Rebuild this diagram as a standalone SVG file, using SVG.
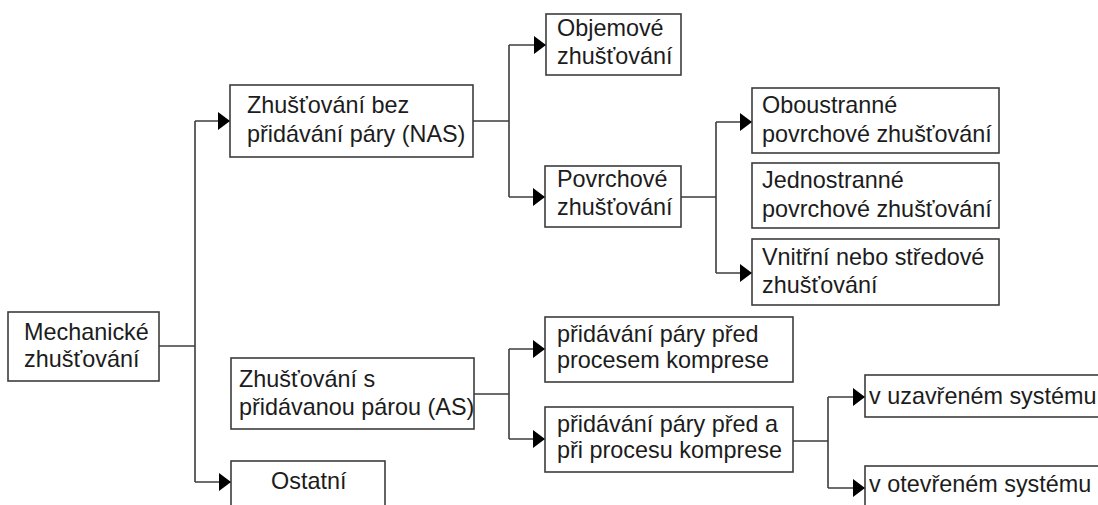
<svg xmlns="http://www.w3.org/2000/svg" width="1098" height="505" viewBox="0 0 1098 505">
<style>
.box{fill:#fff;stroke:#3c3c3c;stroke-width:1.6}
.t{font-family:"Liberation Sans",Arial,sans-serif;font-size:23.4px;fill:#1c1c1c}
.c{fill:none;stroke:#3c3c3c;stroke-width:1.6}
</style>
<defs>
<marker id="ah" markerUnits="userSpaceOnUse" markerWidth="14" markerHeight="20" refX="12.5" refY="10" orient="auto">
<path d="M0.5,1 L12.5,10 L0.5,19 z" fill="#000"/>
</marker>
</defs>
<rect width="1098" height="505" fill="#fff"/>
<g id="connectors">
<path class="c" d="M159,346 H195"/>
<path class="c" d="M195,121 V482"/>
<path class="c" d="M195,121 H230" marker-end="url(#ah)"/>
<path class="c" d="M195,482 H231" marker-end="url(#ah)"/>
<path class="c" d="M473,121 H509 M509,45 V197"/>
<path class="c" d="M509,45 H546" marker-end="url(#ah)"/>
<path class="c" d="M509,197 H545" marker-end="url(#ah)"/>
<path class="c" d="M681,197 H716 M716,122 V273"/>
<path class="c" d="M716,122 H752" marker-end="url(#ah)"/>
<path class="c" d="M716,273 H752" marker-end="url(#ah)"/>
<path class="c" d="M474,394 H509 M509,349 V439"/>
<path class="c" d="M509,349 H545" marker-end="url(#ah)"/>
<path class="c" d="M509,439 H545" marker-end="url(#ah)"/>
<path class="c" d="M793,441 H828 M828,397 V488"/>
<path class="c" d="M828,397 H865" marker-end="url(#ah)"/>
<path class="c" d="M828,488 H865" marker-end="url(#ah)"/>
</g>
<g id="mechanicke">
<rect class="box" x="8" y="312" width="151" height="69"/>
<text class="t" x="24" y="340">Mechanické</text>
<text class="t" x="24" y="367">zhušťování</text>
</g>
<g id="nas">
<rect class="box" x="230" y="85" width="243" height="72"/>
<text class="t" x="247" y="113">Zhušťování bez</text>
<text class="t" x="247" y="142">přidávání páry (NAS)</text>
</g>
<g id="as">
<rect class="box" x="231" y="358" width="243" height="71"/>
<text class="t" x="239" y="387">Zhušťování s</text>
<text class="t" x="239" y="415">přidávanou párou (AS)</text>
</g>
<g id="ostatni">
<rect class="box" x="231" y="461" width="154" height="60"/>
<text class="t" x="271" y="489">Ostatní</text>
</g>
<g id="objemove">
<rect class="box" x="546" y="14" width="135" height="61"/>
<text class="t" x="557" y="36">Objemové</text>
<text class="t" x="557" y="64">zhušťování</text>
</g>
<g id="povrchove">
<rect class="box" x="545" y="166" width="136" height="61"/>
<text class="t" x="557" y="187">Povrchové</text>
<text class="t" x="557" y="215">zhušťování</text>
</g>
<g id="oboustranne">
<rect class="box" x="752" y="88" width="247" height="65"/>
<text class="t" x="762" y="113">Oboustranné</text>
<text class="t" x="762" y="142">povrchové zhušťování</text>
</g>
<g id="jednostranne">
<rect class="box" x="752" y="163" width="247" height="65"/>
<text class="t" x="762" y="188">Jednostranné</text>
<text class="t" x="762" y="217">povrchové zhušťování</text>
</g>
<g id="vnitrni">
<rect class="box" x="752" y="239" width="247" height="66"/>
<text class="t" x="762" y="265">Vnitřní nebo středové</text>
<text class="t" x="762" y="293">zhušťování</text>
</g>
<g id="pred">
<rect class="box" x="545" y="317" width="248" height="65"/>
<text class="t" x="557" y="342">přidávání páry před</text>
<text class="t" x="557" y="368">procesem komprese</text>
</g>
<g id="pred-a-pri">
<rect class="box" x="545" y="407" width="248" height="65"/>
<text class="t" x="557" y="432">přidávání páry před a</text>
<text class="t" x="557" y="458">při procesu komprese</text>
</g>
<g id="uzavreny">
<rect class="box" x="865" y="375" width="250" height="42"/>
<text class="t" x="869" y="404">v uzavřeném systému</text>
</g>
<g id="otevreny">
<rect class="box" x="865" y="466" width="250" height="60"/>
<text class="t" x="869" y="492">v otevřeném systému</text>
</g>
</svg>
